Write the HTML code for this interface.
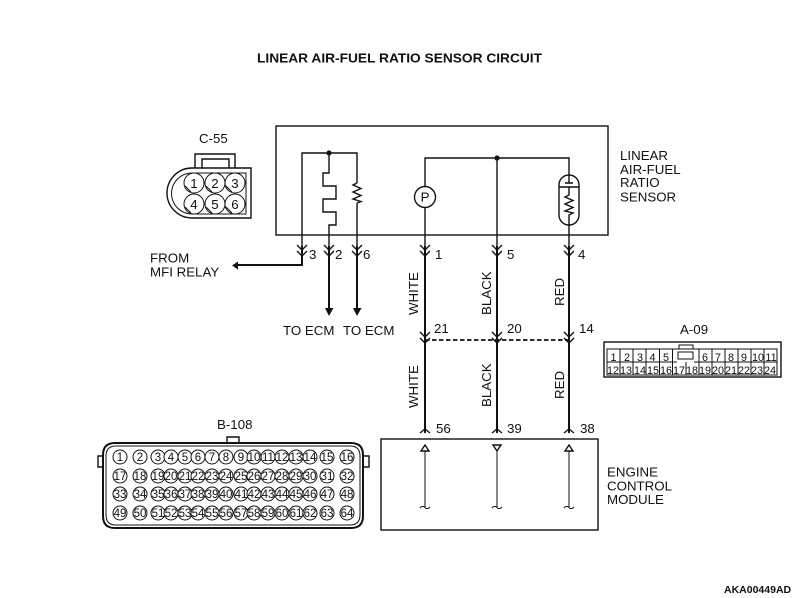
<!DOCTYPE html>
<html><head><meta charset="utf-8"><style>
html,body{margin:0;padding:0;background:#fff}
svg{display:block;filter:blur(.35px)}
text{font-family:"Liberation Sans",sans-serif;fill:#111;font-size:13.3px}
.l{fill:none;stroke:#111;stroke-width:1.4}
.w{fill:none;stroke:#111;stroke-width:2}
.t{fill:none;stroke:#111;stroke-width:1}
.b circle{fill:#fff;stroke:#111;stroke-width:1}
.b text{font-size:11.5px;text-anchor:middle}
.a text{font-size:10.8px;text-anchor:middle}
</style></head><body>
<svg width="800" height="598" viewBox="0 0 800 598" xmlns="http://www.w3.org/2000/svg">
<text x="257" y="62.500" font-weight="bold" textLength="285" lengthAdjust="spacingAndGlyphs" style="font-size:13px">LINEAR AIR-FUEL RATIO SENSOR CIRCUIT</text>

<!-- C-55 -->
<text x="199" y="143">C-55</text>
<path class="l" d="M195 168V154H235V168M202 168V159H229V168"/>
<path class="l" d="M251 168H192A25 25 0 0 0 192 218H251Z"/>
<path class="t" d="M246 173H192A20.500 20.500 0 0 0 192 214H246Z"/>
<g class="b">
<circle cx="194" cy="183" r="10"/><circle cx="215" cy="183" r="10"/><circle cx="235" cy="183" r="10"/>
<circle cx="194" cy="204" r="10"/><circle cx="215" cy="204" r="10"/><circle cx="235" cy="204" r="10"/>
</g>
<path class="t" d="M185 186L191 192M206 186L212 192M226 186L232 192M185 207L191 213M206 207L212 213M226 207L232 213"/>
<text x="194" y="188" text-anchor="middle">1</text><text x="215" y="188" text-anchor="middle">2</text><text x="235" y="188" text-anchor="middle">3</text>
<text x="194" y="209" text-anchor="middle">4</text><text x="215" y="209" text-anchor="middle">5</text><text x="235" y="209" text-anchor="middle">6</text>

<!-- Main box -->
<rect class="l" x="276" y="126" width="332" height="109"/>
<text x="620" y="160">LINEAR</text><text x="620" y="174">AIR-FUEL</text><text x="620" y="187">RATIO</text><text x="620" y="201.500">SENSOR</text>

<!-- left wires -->
<path class="l" d="M302 265V153H357V183M329 153V173H323V186H336V199H323V212H336V225H329V246M357 203V246"/>
<path class="l" d="M357 183L353 185L361 188.500L353 192L361 195.500L353 199L361 201.500L357 203"/>
<circle cx="329" cy="153" r="2.600" fill="#111"/>
<path class="w" d="M302 246V265H236M329 246V309M357 246V309"/>
<path d="M232 265.500L238 261.500V269.500Z" fill="#111"/>
<path d="M325 308H333.500L329 316Z" fill="#111"/><path d="M353 308H361.500L357 316Z" fill="#111"/>
<path class="l" d="M297 245L302 250L307 245M297 251L302 256L307 251M324 245L329 250L334 245M324 251L329 256L334 251M352 245L357 250L362 245M352 251L357 256L362 251"/>
<text x="309" y="259">3</text><text x="335" y="259">2</text><text x="363" y="259">6</text>
<text x="150" y="262.500">FROM</text><text x="150" y="276.500">MFI RELAY</text>
<text x="283" y="335">TO ECM</text><text x="343" y="335">TO ECM</text>

<!-- right wires -->
<path class="l" d="M425 186V158H569V183M497 158V246M425 208V246M569 225V246"/>
<circle cx="497" cy="158" r="2.600" fill="#111"/>
<circle class="l" cx="425" cy="197" r="10.500" fill="#fff"/>
<text x="425" y="201.500" text-anchor="middle">P</text>
<rect class="l" x="559" y="175" width="20" height="50" rx="10" ry="10"/>
<path class="l" d="M559 187H579M565 183H573M569 187V195L565 197L573 200.500L565 204L573 207.500L565 211L573 213L569 215V225"/>

<path class="w" d="M425 246V433M497 246V433M569 246V433"/>
<path class="l" d="M420 245L425 250L430 245M420 251L425 256L430 251M492 245L497 250L502 245M492 251L497 256L502 251M564 245L569 250L574 245M564 251L569 256L574 251"/>
<text x="435" y="259">1</text><text x="507" y="259">5</text><text x="578" y="259">4</text>
<text transform="translate(418,315) rotate(-90)">WHITE</text>
<text transform="translate(491,315) rotate(-90)">BLACK</text>
<text transform="translate(564,306) rotate(-90)">RED</text>

<path class="l" d="M420 332L425 337L430 332M420 338L425 343L430 338M492 332L497 337L502 332M492 338L497 343L502 338M564 332L569 337L574 332M564 338L569 343L574 338"/>
<path d="M425 340H569" fill="none" stroke="#111" stroke-width="1.700" stroke-dasharray="4.500 2.500"/>
<text x="434" y="333">21</text><text x="507" y="333">20</text><text x="579" y="333">14</text>

<text transform="translate(418,408) rotate(-90)">WHITE</text>
<text transform="translate(491,407) rotate(-90)">BLACK</text>
<text transform="translate(564,399) rotate(-90)">RED</text>

<path class="l" d="M420 433L425 429L430 433M492 433L497 429L502 433M564 433L569 429L574 433"/>
<text x="436" y="433">56</text><text x="507" y="433">39</text><text x="580" y="433">38</text>

<!-- ECM -->
<rect class="l" x="381" y="439" width="217" height="91"/>
<path class="t" d="M425 451V507M497 451V507M569 451V507"/>
<path class="l" d="M421 451L425 445L429 451ZM493 445L497 451L501 445ZM565 451L569 445L573 451Z" fill="#fff"/>
<path class="t" d="M420 508Q422.500 505 425 507.500T430 507M492 508Q494.500 505 497 507.500T502 507M564 508Q566.500 505 569 507.500T574 507"/>
<text x="607" y="476.500">ENGINE</text><text x="607" y="490.500">CONTROL</text><text x="607" y="504">MODULE</text>

<!-- A-09 -->
<text x="680" y="334">A-09</text>
<rect class="l" x="604" y="342" width="177" height="35"/>
<rect class="t" x="607" y="349" width="170" height="26"/>
<path class="t" d="M607 362H677M694 362H777M620 349V375M633 349V375M646 349V375M659.500 349V375M672.500 349V375M686 362V375M699 349V375M712 349V375M725 349V375M738 349V375M751 349V375M764 349V375"/>
<path class="t" d="M679 349V345H693V349"/>
<rect class="t" x="678" y="352" width="15" height="7"/>
<g class="a">
<text x="613.500" y="361">1</text><text x="627" y="361">2</text><text x="640" y="361">3</text><text x="652.500" y="361">4</text><text x="666" y="361">5</text>
<text x="705" y="361">6</text><text x="718" y="361">7</text><text x="731" y="361">8</text><text x="744" y="361">9</text><text x="758" y="361">10</text><text x="771" y="361">11</text>
<text x="613" y="374">12</text><text x="626" y="374">13</text><text x="640" y="374">14</text><text x="653" y="374">15</text><text x="666" y="374">16</text><text x="679" y="374">17</text><text x="692" y="374">18</text><text x="705" y="374">19</text><text x="718" y="374">20</text><text x="731" y="374">21</text><text x="744" y="374">22</text><text x="757" y="374">23</text><text x="770" y="374">24</text>
</g>

<!-- B-108 -->
<text x="217" y="429">B-108</text>
<path class="l" d="M227 443V437H239V443M103 456H98V467H103M363 456H369V467H363"/>
<path class="w" d="M115 443H351Q363 443 363 455V516Q363 528 351 528H115Q103 528 103 516V455Q103 443 115 443Z"/>
<path class="t" d="M116 446H350Q360 446 360 456V515Q360 525 350 525H116Q106 525 106 515V456Q106 446 116 446Z"/>
<g class="b">
<circle cx="120" cy="457" r="7"/><text x="120" y="461">1</text><circle cx="140" cy="457" r="7"/><text x="140" y="461">2</text><circle cx="158" cy="457" r="7"/><text x="158" y="461">3</text><circle cx="171" cy="457" r="7"/><text x="171" y="461">4</text><circle cx="185" cy="457" r="7"/><text x="185" y="461">5</text><circle cx="198" cy="457" r="7"/><text x="198" y="461">6</text><circle cx="212" cy="457" r="7"/><text x="212" y="461">7</text><circle cx="226" cy="457" r="7"/><text x="226" y="461">8</text><circle cx="241" cy="457" r="7"/><text x="241" y="461">9</text><circle cx="254" cy="457" r="7"/><text x="254" y="461">10</text><circle cx="268" cy="457" r="7"/><text x="268" y="461">11</text><circle cx="282" cy="457" r="7"/><text x="282" y="461">12</text><circle cx="296" cy="457" r="7"/><text x="296" y="461">13</text><circle cx="310" cy="457" r="7"/><text x="310" y="461">14</text><circle cx="327" cy="457" r="7"/><text x="327" y="461">15</text><circle cx="347" cy="457" r="7"/><text x="347" y="461">16</text>
<circle cx="120" cy="476" r="7"/><text x="120" y="480">17</text><circle cx="140" cy="476" r="7"/><text x="140" y="480">18</text><circle cx="158" cy="476" r="7"/><text x="158" y="480">19</text><circle cx="171" cy="476" r="7"/><text x="171" y="480">20</text><circle cx="185" cy="476" r="7"/><text x="185" y="480">21</text><circle cx="198" cy="476" r="7"/><text x="198" y="480">22</text><circle cx="212" cy="476" r="7"/><text x="212" y="480">23</text><circle cx="226" cy="476" r="7"/><text x="226" y="480">24</text><circle cx="241" cy="476" r="7"/><text x="241" y="480">25</text><circle cx="254" cy="476" r="7"/><text x="254" y="480">26</text><circle cx="268" cy="476" r="7"/><text x="268" y="480">27</text><circle cx="282" cy="476" r="7"/><text x="282" y="480">28</text><circle cx="296" cy="476" r="7"/><text x="296" y="480">29</text><circle cx="310" cy="476" r="7"/><text x="310" y="480">30</text><circle cx="327" cy="476" r="7"/><text x="327" y="480">31</text><circle cx="347" cy="476" r="7"/><text x="347" y="480">32</text>
<circle cx="120" cy="494" r="7"/><text x="120" y="498">33</text><circle cx="140" cy="494" r="7"/><text x="140" y="498">34</text><circle cx="158" cy="494" r="7"/><text x="158" y="498">35</text><circle cx="171" cy="494" r="7"/><text x="171" y="498">36</text><circle cx="185" cy="494" r="7"/><text x="185" y="498">37</text><circle cx="198" cy="494" r="7"/><text x="198" y="498">38</text><circle cx="212" cy="494" r="7"/><text x="212" y="498">39</text><circle cx="226" cy="494" r="7"/><text x="226" y="498">40</text><circle cx="241" cy="494" r="7"/><text x="241" y="498">41</text><circle cx="254" cy="494" r="7"/><text x="254" y="498">42</text><circle cx="268" cy="494" r="7"/><text x="268" y="498">43</text><circle cx="282" cy="494" r="7"/><text x="282" y="498">44</text><circle cx="296" cy="494" r="7"/><text x="296" y="498">45</text><circle cx="310" cy="494" r="7"/><text x="310" y="498">46</text><circle cx="327" cy="494" r="7"/><text x="327" y="498">47</text><circle cx="347" cy="494" r="7"/><text x="347" y="498">48</text>
<circle cx="120" cy="513" r="7"/><text x="120" y="517">49</text><circle cx="140" cy="513" r="7"/><text x="140" y="517">50</text><circle cx="158" cy="513" r="7"/><text x="158" y="517">51</text><circle cx="171" cy="513" r="7"/><text x="171" y="517">52</text><circle cx="185" cy="513" r="7"/><text x="185" y="517">53</text><circle cx="198" cy="513" r="7"/><text x="198" y="517">54</text><circle cx="212" cy="513" r="7"/><text x="212" y="517">55</text><circle cx="226" cy="513" r="7"/><text x="226" y="517">56</text><circle cx="241" cy="513" r="7"/><text x="241" y="517">57</text><circle cx="254" cy="513" r="7"/><text x="254" y="517">58</text><circle cx="268" cy="513" r="7"/><text x="268" y="517">59</text><circle cx="282" cy="513" r="7"/><text x="282" y="517">60</text><circle cx="296" cy="513" r="7"/><text x="296" y="517">61</text><circle cx="310" cy="513" r="7"/><text x="310" y="517">62</text><circle cx="327" cy="513" r="7"/><text x="327" y="517">63</text><circle cx="347" cy="513" r="7"/><text x="347" y="517">64</text>
</g>

<text x="724" y="593" font-weight="bold" style="font-size:10.5px">AKA00449AD</text>
</svg>
</body></html>
